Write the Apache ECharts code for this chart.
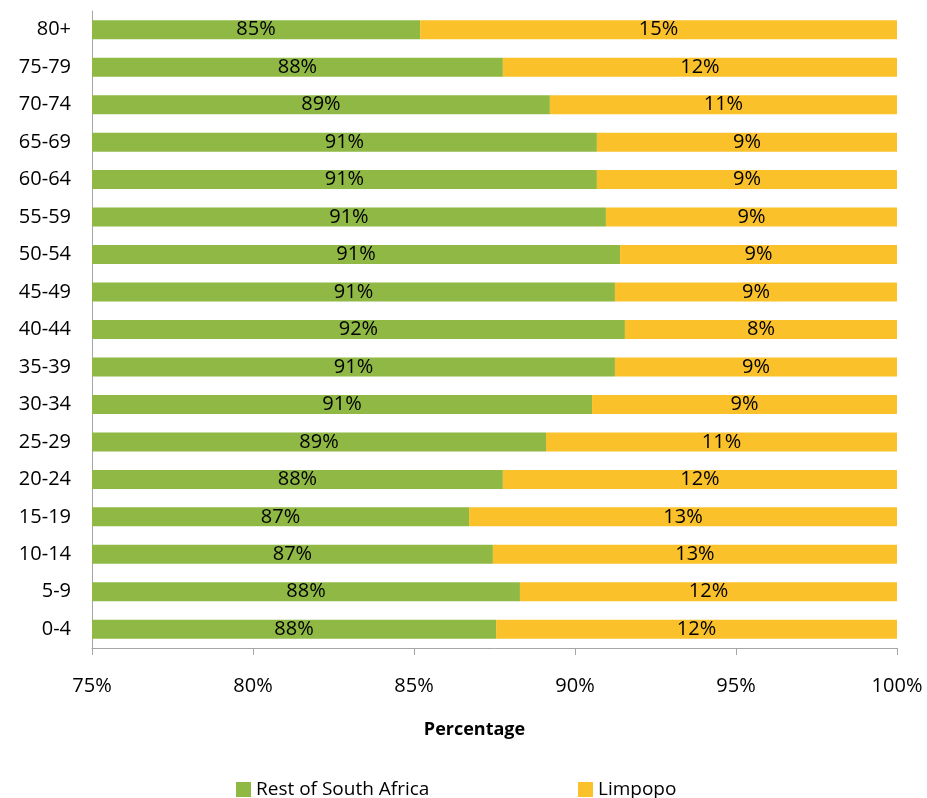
<!DOCTYPE html>
<html>
<head>
<meta charset="utf-8">
<script src="https://cdn.jsdelivr.net/npm/echarts@6/dist/echarts.min.js"></script>
<style>
  html, body { margin: 0; padding: 0; background: #ffffff; }
  #chart { width: 927px; height: 798px; }
</style>
</head>
<body>
<div id="chart"></div>
<script>
// Age groups, bottom to top
const ageGroups = ['0-4', '5-9', '10-14', '15-19', '20-24', '25-29', '30-34', '35-39', '40-44',
  '45-49', '50-54', '55-59', '60-64', '65-69', '70-74', '75-79', '80+'];

// Share of each age group living in the rest of South Africa (%)
const restOfSA = [87.55, 88.29, 87.45, 86.71, 87.76, 89.10, 90.53, 91.24, 91.55,
  91.24, 91.40, 90.96, 90.68, 90.68, 89.22, 87.76, 85.19];

// Share living in Limpopo (%)
const limpopo = [12.45, 11.71, 12.55, 13.29, 12.24, 10.90, 9.47, 8.76, 8.45,
  8.76, 8.60, 9.04, 9.32, 9.32, 10.78, 12.24, 14.81];

const xTicks = { min: 75, max: 100, step: 5 };

const FONT = 'Open Sans';
const chart = echarts.init(document.getElementById('chart'), null, { renderer: 'canvas' });

const pctLabel = p => Math.round(p.value) + '%';

chart.setOption({
  animation: false,
  backgroundColor: '#ffffff',
  textStyle: { fontFamily: FONT },
  grid: { left: 92, right: 30, top: 11, bottom: 150, containLabel: false },
  legend: [
    {
      data: ['Rest of South Africa'],
      left: 231, top: 775,
      itemWidth: 15, itemHeight: 15, icon: 'rect', itemGap: 4,
      textStyle: { fontFamily: FONT, fontSize: 19, color: '#000' }
    },
    {
      data: ['Limpopo'],
      left: 573, top: 775,
      itemWidth: 15, itemHeight: 15, icon: 'rect', itemGap: 4,
      textStyle: { fontFamily: FONT, fontSize: 19, color: '#000' }
    }
  ],
  xAxis: {
    type: 'value',
    min: xTicks.min, max: xTicks.max, interval: xTicks.step,
    name: 'Percentage',
    nameLocation: 'middle',
    nameGap: 73,
    nameTextStyle: { fontFamily: FONT, fontSize: 18, fontWeight: 'bold', color: '#000', padding: [0, 40, 0, 0] },
    axisLine: { show: true, lineStyle: { color: '#a6a6a6', width: 1 } },
    axisTick: { show: true, length: 7, lineStyle: { color: '#a6a6a6' } },
    axisLabel: { formatter: v => v + '%', margin: 28, fontFamily: FONT, fontSize: 20, color: '#000' },
    splitLine: { show: false }
  },
  yAxis: {
    type: 'category',
    data: ageGroups,
    axisLine: { show: true, lineStyle: { color: '#a6a6a6', width: 1 } },
    axisTick: { show: false },
    axisLabel: { margin: 21, fontFamily: FONT, fontSize: 20, color: '#000' }
  },
  series: [
    {
      name: 'Rest of South Africa',
      type: 'bar',
      stack: 'share',
      data: restOfSA,
      barWidth: 19,
      itemStyle: { color: '#8fb845' },
      label: { show: true, position: 'inside', formatter: pctLabel, fontFamily: FONT, fontSize: 20, color: '#000' }
    },
    {
      name: 'Limpopo',
      type: 'bar',
      stack: 'share',
      data: limpopo,
      barWidth: 19,
      itemStyle: { color: '#fac12a' },
      label: { show: true, position: 'inside', formatter: pctLabel, fontFamily: FONT, fontSize: 20, color: '#000' }
    }
  ]
});
</script>
</body>
</html>
